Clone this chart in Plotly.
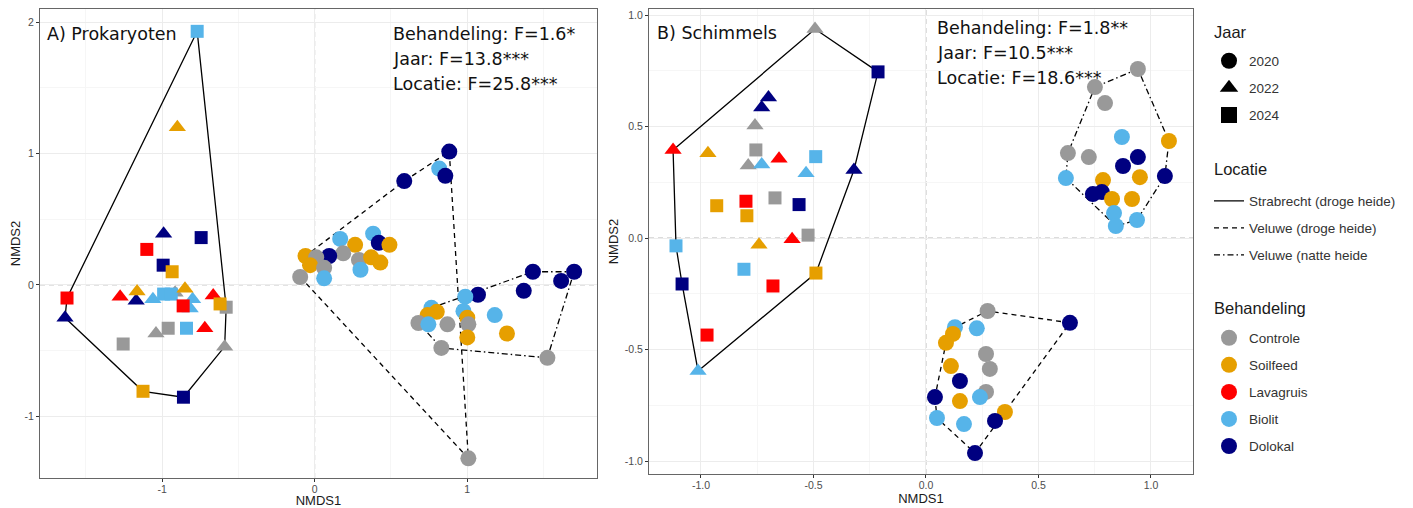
import plotly.graph_objects as go

# page body adds an 8px margin; the figure is sized and positioned to compensate
W, H = 1405, 500
OFF = 8

# ---------------- categories / styles ----------------
TREAT_CODES = ["C", "S", "L", "B", "D"]
TREAT_NAMES = ["Controle", "Soilfeed", "Lavagruis", "Biolit", "Dolokal"]
TREAT_COLORS = ["#999999", "#E69F00", "#FF0000", "#56B4E9", "#000080"]
YEARS = [2020, 2022, 2024]
YEAR_NAMES = ["2020", "2022", "2024"]
LOC_CODES = ["S", "VD", "VN"]
LOC_NAMES = ["Strabrecht (droge heide)", "Veluwe (droge heide)", "Veluwe (natte heide"]
LEGEND_TITLES = ["Jaar", "Locatie", "Behandeling"]

# ---------------- Panel A: Prokaryoten ----------------
a_x = [-0.77, -0.90, -0.99, -0.744, -1.10, -0.993, -0.934, -1.623, -1.636, -1.275,
       -1.17, -1.164, -1.06, -0.915, -0.99, -0.94, -0.80, -0.85, -0.816, -0.862,
       -0.665, -0.58, -0.62, -0.96, -1.04, -0.84, -0.72, -1.255, -0.59, -1.125, -0.86,
       0.882, 0.816, 0.856, 0.587, 0.383, 0.42, 0.49, 0.167, 0.265, 0.187, 0.095,
       -0.06, 0.01, -0.03, 0.062, 0.062, -0.095, 0.29, 0.30, 0.37, 0.43, 1.007,
       1.43, 1.70, 1.615, 1.37, 1.07, 0.987, 0.765, 0.80, 0.74, 0.68, 0.745, 0.87,
       0.975, 1.00, 1.007, 1.00, 1.18, 1.26, 0.83, 1.525]
a_y = [1.93, 1.20, 0.39, 0.36, 0.27, 0.15, 0.10, -0.10, -0.25, -0.09,
       -0.12, -0.05, -0.11, -0.06, -0.07, -0.07, -0.11, -0.03, -0.18, -0.16,
       -0.08, -0.17, -0.145, -0.33, -0.37, -0.33, -0.33, -0.45, -0.47, -0.81, -0.855,
       1.015, 0.885, 0.83, 0.79, 0.39, 0.32, 0.305, 0.35, 0.305, 0.24, 0.22,
       0.22, 0.21, 0.15, 0.13, 0.05, 0.06, 0.19, 0.115, 0.21, 0.17, -1.32,
       0.10, 0.10, 0.03, -0.045, -0.075, -0.09, -0.175, -0.205, -0.23, -0.29, -0.30, -0.30,
       -0.20, -0.25, -0.30, -0.40, -0.23, -0.37, -0.48, -0.555]
a_treat = ["B", "S", "D", "D", "L", "D", "S", "L", "D", "L",
           "D", "S", "B", "C", "B", "B", "B", "S", "B", "L",
           "L", "C", "S", "C", "C", "B", "L", "C", "C", "S", "D",
           "D", "B", "D", "D", "B", "D", "S", "B", "S", "C", "D",
           "S", "C", "S", "C", "B", "C", "C", "B", "S", "S", "C",
           "D", "D", "D", "D", "D", "B", "B", "S", "S", "C", "B", "C",
           "B", "S", "C", "S", "B", "S", "C", "C"]
a_year = [2024, 2022, 2022, 2024, 2024, 2024, 2024, 2024, 2022, 2022,
          2022, 2022, 2022, 2022, 2024, 2024, 2022, 2022, 2022, 2024,
          2022, 2024, 2024, 2024, 2022, 2024, 2022, 2024, 2022, 2024, 2024] + [2020] * 42
a_loc = ["S"] * 31 + ["VD"] * 22 + ["VN"] * 20

# ---------------- Panel B: Schimmels ----------------
b_x = [-0.493, -0.213, -1.124, -0.969, -0.70, -0.73, -0.76, -0.756, -0.79, -0.73,
       -0.653, -0.49, -0.533, -0.32, -0.93, -0.80, -0.796, -0.671, -0.564, -0.524,
       -0.595, -0.742, -1.111, -0.809, -0.489, -0.68, -1.084, -0.973, -1.013,
       0.274, 0.64, 0.129, 0.226, 0.12, 0.089, 0.267, 0.284, 0.111, 0.151,
       0.267, 0.24, 0.04, 0.151, 0.351, 0.307, 0.049, 0.169, 0.218,
       0.942, 0.751, 0.796, 0.871, 1.08, 0.631, 0.724, 0.942, 0.876, 0.951,
       1.062, 0.622, 0.787, 0.742, 0.782, 0.827, 0.916, 0.836, 0.938, 0.844]
b_y = [0.937, 0.745, 0.395, 0.38, 0.63, 0.585, 0.505, 0.395, 0.325, 0.33,
       0.355, 0.365, 0.29, 0.305, 0.145, 0.165, 0.10, 0.18, 0.15, 0.013,
       -0.005, -0.03, -0.035, -0.14, -0.157, -0.215, -0.206, -0.435, -0.596,
       -0.327, -0.38, -0.40, -0.405, -0.43, -0.47, -0.52, -0.587, -0.574, -0.641,
       -0.69, -0.713, -0.713, -0.731, -0.78, -0.82, -0.807, -0.834, -0.964,
       0.758, 0.677, 0.605, 0.453, 0.435, 0.381, 0.363, 0.363, 0.323, 0.273,
       0.278, 0.269, 0.26, 0.197, 0.206, 0.175, 0.175, 0.112, 0.081, 0.054]
b_treat = ["C", "D", "L", "S", "D", "D", "C", "C", "C", "B",
           "L", "B", "B", "D", "S", "L", "S", "C", "D", "C",
           "L", "S", "B", "B", "S", "L", "D", "L", "B",
           "C", "D", "B", "B", "S", "S", "C", "C", "S", "D",
           "C", "B", "D", "S", "S", "D", "B", "B", "D",
           "C", "C", "C", "B", "S", "C", "C", "D", "D", "S",
           "D", "B", "S", "D", "D", "S", "S", "B", "B", "B"]
b_year = [2022, 2024, 2022, 2022, 2022, 2022, 2022, 2024, 2022, 2022,
          2022, 2024, 2022, 2022, 2024, 2024, 2024, 2024, 2024, 2024,
          2022, 2022, 2024, 2024, 2024, 2024, 2024, 2024, 2022] + [2020] * 39
b_loc = ["S"] * 29 + ["VD"] * 19 + ["VN"] * 20

# ---------------- tick labels / annotations ----------------
a_xticks = [-1, 0, 1]
a_xticktext = ["-1", "0", "1"]
a_yticks = [-1, 0, 1, 2]
a_yticktext = ["-1", "0", "1", "2"]
b_ticks = [-1.0, -0.5, 0.0, 0.5, 1.0]
b_ticktext = ["-1.0", "-0.5", "0.0", "0.5", "1.0"]
a_title = "A) Prokaryoten"
b_title = "B) Schimmels"
a_stats = ["Behandeling: F=1.6*", "Jaar: F=13.8***", "Locatie: F=25.8***"]
b_stats = ["Behandeling: F=1.8**", "Jaar: F=10.5***", "Locatie: F=18.6***"]

# ---------------- styles ----------------
SYMBOL = {2020: "circle", 2022: "triangle-up", 2024: "square"}
MSIZE = {2020: 16, 2022: 15, 2024: 13}
COLOR = dict(zip(TREAT_CODES, TREAT_COLORS))
LOC_DASH = {"S": "solid", "VD": "5px,4px", "VN": "6px,3px,1.5px,3px"}
FONT = "Liberation Sans, Arial, sans-serif"
AFONT = "DejaVu Sans, sans-serif"


def fx(px):
    return (px - OFF) / W


def fy(py):
    return 1 - (py - OFF) / H


def convex_hull(xs, ys):
    pts = sorted(set(zip(xs, ys)))

    def cross(o, a, b):
        return (a[0] - o[0]) * (b[1] - o[1]) - (a[1] - o[1]) * (b[0] - o[0])

    lower, upper = [], []
    for p in pts:
        while len(lower) >= 2 and cross(lower[-2], lower[-1], p) <= 0:
            lower.pop()
        lower.append(p)
    for p in reversed(pts):
        while len(upper) >= 2 and cross(upper[-2], upper[-1], p) <= 0:
            upper.pop()
        upper.append(p)
    h = lower[:-1] + upper[:-1]
    h.append(h[0])
    return [p[0] for p in h], [p[1] for p in h]


fig = go.Figure()

panels = [
    (a_x, a_y, a_treat, a_year, a_loc, "x", "y"),
    (b_x, b_y, b_treat, b_year, b_loc, "x2", "y2"),
]

for xs, ys, tr, yr, lc, xa, ya in panels:
    for loc in LOC_CODES:
        gx = [x for x, l in zip(xs, lc) if l == loc]
        gy = [y for y, l in zip(ys, lc) if l == loc]
        hx, hy = convex_hull(gx, gy)
        fig.add_trace(go.Scatter(
            x=hx, y=hy, mode="lines", xaxis=xa, yaxis=ya,
            line=dict(color="black", width=1.3, dash=LOC_DASH[loc]),
            showlegend=False, hoverinfo="skip"))
    fig.add_trace(go.Scatter(
        x=xs, y=ys, mode="markers", xaxis=xa, yaxis=ya,
        marker=dict(
            color=[COLOR[t] for t in tr],
            symbol=[SYMBOL[y] for y in yr],
            size=[MSIZE[y] for y in yr],
            opacity=1,
            line=dict(width=0)),
        text=[f"{TREAT_NAMES[TREAT_CODES.index(t)]} {y}" for t, y in zip(tr, yr)],
        hoverinfo="text+x+y",
        showlegend=False))

# legend entries
for yv, name in zip(YEARS, YEAR_NAMES):
    fig.add_trace(go.Scatter(
        x=[None], y=[None], mode="markers", name=name, legend="legend",
        legendgroup="j" + name,
        marker=dict(symbol=SYMBOL[yv], size=16, color="black")))
for code, name in zip(LOC_CODES, LOC_NAMES):
    fig.add_trace(go.Scatter(
        x=[None], y=[None], mode="lines", name=name, legend="legend2",
        legendgroup="l" + code,
        line=dict(color="black", width=1.3, dash=LOC_DASH[code])))
for code, name, col in zip(TREAT_CODES, TREAT_NAMES, TREAT_COLORS):
    fig.add_trace(go.Scatter(
        x=[None], y=[None], mode="markers", name=name, legend="legend3",
        legendgroup="t" + code,
        marker=dict(symbol="circle", size=16, color=col)))

axis_common = dict(
    showline=True, mirror=True, linecolor="#666666", linewidth=1,
    ticks="outside", ticklen=3, tickcolor="#333333", tickwidth=1,
    tickfont=dict(size=10.5, color="#4d4d4d", family=FONT),
    showgrid=True, gridcolor="#ececec", gridwidth=1,
    zeroline=False, automargin=False,
)

legend_common = dict(xanchor="left", yanchor="top",
                     font=dict(size=13.5, color="#333333"), tracegroupgap=6.5,
                     bgcolor="rgba(0,0,0,0)", itemclick=False, itemdoubleclick=False)

fig.update_layout(
    width=W, height=H,
    margin=dict(l=0, r=0, t=0, b=0),
    paper_bgcolor="white", plot_bgcolor="white",
    font=dict(family=FONT, color="#1a1a1a"),
    xaxis=dict(domain=[fx(40), fx(597)], range=[-1.80, 1.85], anchor="y",
               tickvals=a_xticks, ticktext=a_xticktext, ticklabelstandoff=-2,
               minor=dict(tickvals=[-1.5, -0.5, 0.5, 1.5], showgrid=True, gridcolor="#f6f6f6", ticks=""),
               title=dict(text="NMDS1", font=dict(size=13), standoff=3), **axis_common),
    yaxis=dict(domain=[fy(478), fy(9)], range=[-1.47, 2.10], anchor="x",
               tickvals=a_yticks, ticktext=a_yticktext,
               minor=dict(tickvals=[-0.5, 0.5, 1.5], showgrid=True, gridcolor="#f6f6f6", ticks=""),
               title=dict(text="NMDS2", font=dict(size=13), standoff=3), **axis_common),
    xaxis2=dict(domain=[fx(649), fx(1193)], range=[-1.231, 1.187], anchor="y2",
                tickvals=b_ticks, ticktext=b_ticktext, ticklabelstandoff=-2,
                minor=dict(tickvals=[-0.75, -0.25, 0.25, 0.75], showgrid=True, gridcolor="#f6f6f6", ticks=""),
                title=dict(text="NMDS1", font=dict(size=13), standoff=3), **axis_common),
    yaxis2=dict(domain=[fy(474), fy(9)], range=[-1.058, 1.027], anchor="x2",
                tickvals=b_ticks, ticktext=b_ticktext,
                minor=dict(tickvals=[-0.75, -0.25, 0.25, 0.75], showgrid=True, gridcolor="#f6f6f6", ticks=""),
                title=dict(text="NMDS2", font=dict(size=13), standoff=3), **axis_common),
    legend=dict(x=fx(1209), y=fy(45.5), **legend_common),
    legend2=dict(x=fx(1209), y=fy(185.5), **legend_common),
    legend3=dict(x=fx(1209), y=fy(322.5), **legend_common),
)

# legend group titles
for txt, py in zip(LEGEND_TITLES, [32, 169, 308]):
    fig.add_annotation(text=txt, xref="paper", yref="paper", x=fx(1212), y=fy(py),
                       xanchor="left", yanchor="middle", showarrow=False,
                       font=dict(family=FONT, size=16.5, color="#1a1a1a"))

# dashed reference lines at 0
for xa, ya in [("x", "y"), ("x2", "y2")]:
    fig.add_shape(type="line", xref=xa, yref=ya + " domain", x0=0, x1=0, y0=0, y1=1,
                  line=dict(color="#b5b5b5", width=1, dash="5px,4px"), layer="below")
    fig.add_shape(type="line", xref=xa + " domain", yref=ya, x0=0, x1=1, y0=0, y1=0,
                  line=dict(color="#b5b5b5", width=1, dash="5px,4px"), layer="below")


def add_text(txt, px, py, size):
    fig.add_annotation(text=txt, xref="paper", yref="paper", x=fx(px), y=fy(py),
                       xanchor="left", yanchor="middle", showarrow=False,
                       font=dict(family=AFONT, size=size, color="#111111"))


add_text(a_title, 45, 34, 17.5)
add_text(b_title, 655, 33, 17.5)
for i, s in enumerate(a_stats):
    add_text(s, 391, 34 + 25 * i, 17.5)
for i, s in enumerate(b_stats):
    add_text(s, 935, 28 + 25 * i, 17.5)

fig.write_html("out.html")
